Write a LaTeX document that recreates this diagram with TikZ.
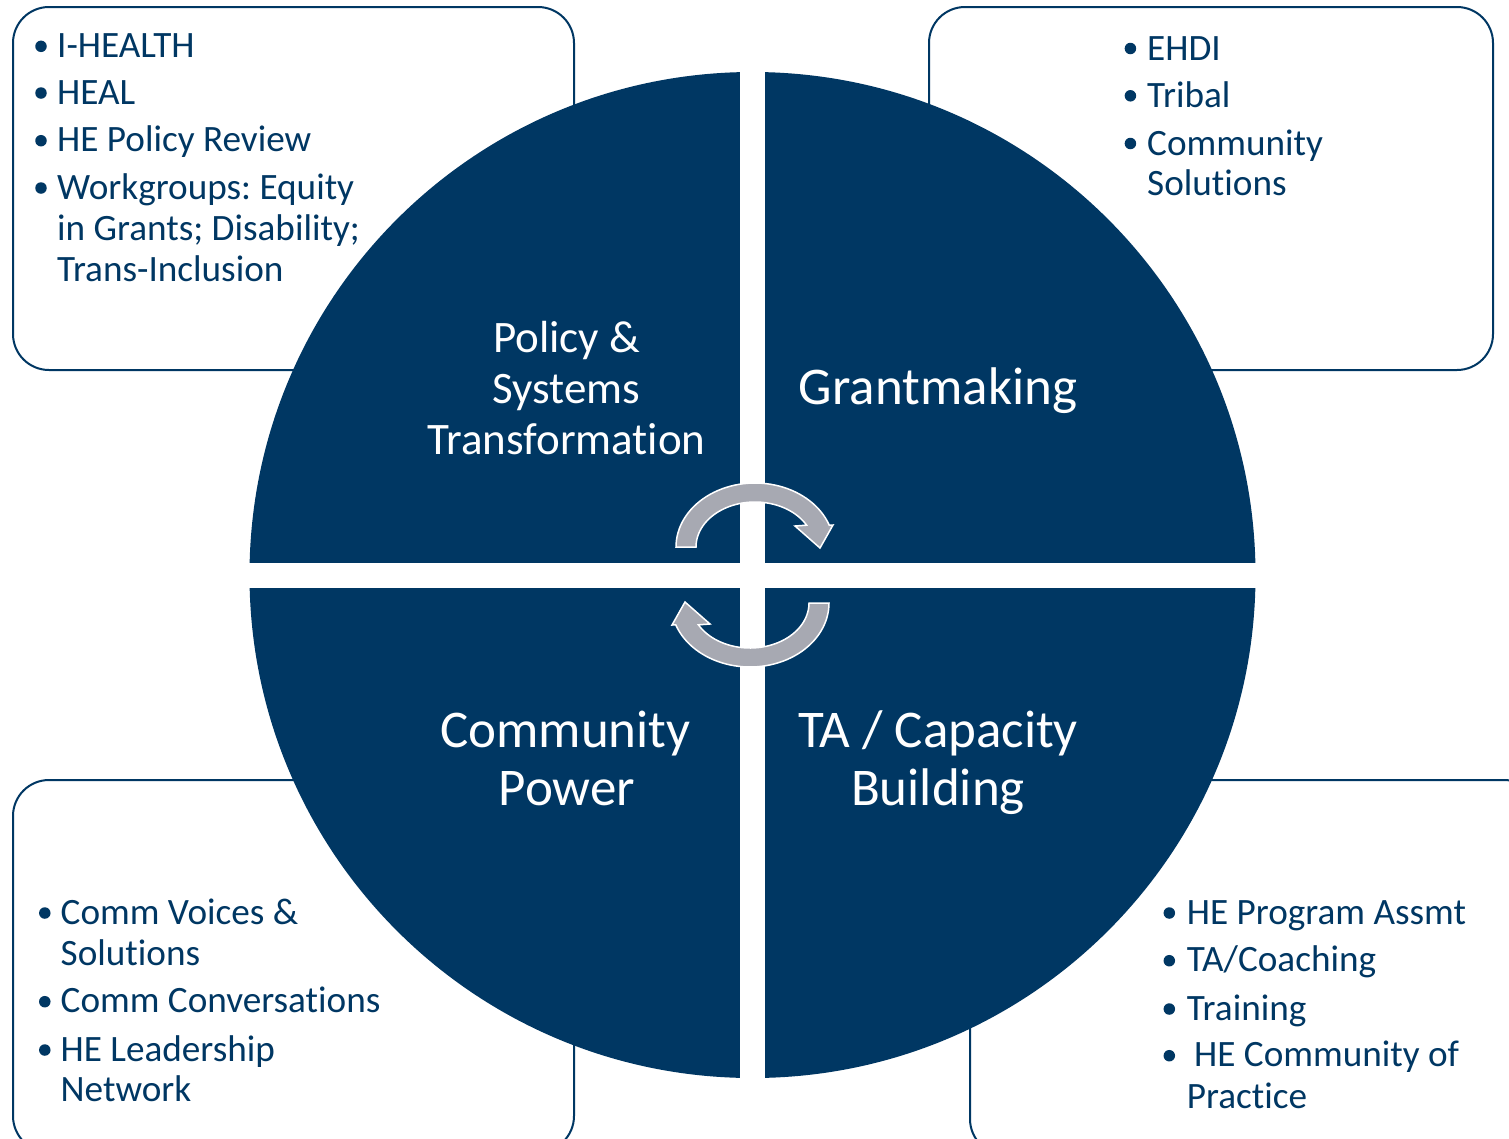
\documentclass[tikz,border=0pt]{standalone}
\usepackage{fontspec}
\setmainfont{Carlito}[Ligatures={NoCommon}]
\frenchspacing
\definecolor{navy}{RGB}{0,55,99}
\definecolor{arrowgray}{RGB}{167,169,178}
\begin{document}
\begin{tikzpicture}[x=1pt,y=-1pt,
  box/.style={draw=navy, line width=2pt, fill=white, rounded corners=36pt},
  item/.style={anchor=base west, inner sep=0pt, text=navy, font=\fontsize{37.2}{40}\selectfont},
  dot/.style={circle, fill=navy, inner sep=0pt, minimum size=11.5pt},
  big/.style={anchor=base, inner sep=0pt, text=white, font=\fontsize{53}{56}\selectfont},
  mid/.style={anchor=base, inner sep=0pt, text=white, font=\fontsize{45}{48}\selectfont},
  cyc/.style={fill=arrowgray, draw=white, line width=1.5pt, line join=miter}
]
\useasboundingbox (0,0) rectangle (1509,1138);
\fill[white] (0,0) rectangle (1509,1138);
\begin{scope}
\clip (0,0) rectangle (1509,1138);
% boxes
\draw[box] (13,7) rectangle (574,370);
\draw[box] (929,7) rectangle (1493,370);
\draw[box] (13,780) rectangle (574,1152);
\draw[box] (970,780) rectangle (1540,1155);
% circle
\fill[navy] (752.5,575) circle[radius=503pt];
% white cross
\fill[white] (740,55) rectangle (765,1095);
\fill[white] (235,562.5) rectangle (1270,587.5);
% cycle arrows
\path[cyc] plot[domain=180:20, samples=50] ({755+79*cos(\x)},{547-64*sin(\x)})
  -- (833,525) -- (820,548) -- (795,526)
  -- plot[domain=29:180, samples=50] ({755+59*cos(\x)},{547-45*sin(\x)}) -- cycle;
\begin{scope}[rotate around={180:(752.5,575)}]
\path[cyc] plot[domain=180:20, samples=50] ({755+79*cos(\x)},{547-64*sin(\x)})
  -- (833,525) -- (820,548) -- (795,526)
  -- plot[domain=29:180, samples=50] ({755+59*cos(\x)},{547-45*sin(\x)}) -- cycle;
\end{scope}
\end{scope}
% quadrant labels
\node[mid] (p1) at (566.5,352) {Policy \&};
\node[mid] (p2) at (566.5,403) {Systems};
\node[mid] (p3) at (566.5,454) {Transformation};
\node[big] (g1) at (938,404) {Grantmaking};
\node[big] (c1) at (565.5,747.5) {Community};
\node[big] (c2) at (567,805) {Power};
\node[big] (t1) at (938,747.5) {TA / Capacity};
\node[big] (t2) at (938,805) {Building};
% top-left list
\node[dot] (tld1) at (41,46.3) {};
\node[item] (tl1) at (57,57.3) {I-HEALTH};
\node[dot] (tld2) at (41,93) {};
\node[item] (tl2) at (57,104) {HEAL};
\node[dot] (tld3) at (41,140.7) {};
\node[item] (tl3) at (57,151.7) {HE Policy Review};
\node[dot] (tld4) at (41,188) {};
\node[item] (tl4) at (57,199) {Workgroups: Equity};
\node[item] (tl5) at (57,240.7) {in Grants; Disability;};
\node[item] (tl6) at (57,281.7) {Trans-Inclusion};
% top-right list
\node[dot] (trd1) at (1130.4,48.5) {};
\node[item] (tr1) at (1147,60) {EHDI};
\node[dot] (trd2) at (1130.4,95.8) {};
\node[item] (tr2) at (1147,107.3) {Tribal};
\node[dot] (trd3) at (1130.4,143.5) {};
\node[item] (tr3) at (1147,155) {Community};
\node[item] (tr4) at (1147,195.7) {Solutions};
% bottom-left list
\node[dot] (bld1) at (44.8,913) {};
\node[item] (bl1) at (60.5,924) {Comm Voices \&};
\node[item] (bl2) at (60.5,965) {Solutions};
\node[dot] (bld2) at (44.8,1001.7) {};
\node[item] (bl3) at (60.5,1012.7) {Comm Conversations};
\node[dot] (bld3) at (44.8,1050) {};
\node[item] (bl4) at (60.5,1061) {HE Leadership};
\node[item] (bl5) at (60.5,1101.7) {Network};
% bottom-right list
\node[dot] (brd1) at (1169.3,913) {};
\node[item] (br1) at (1186.7,924) {HE Program Assmt};
\node[dot] (brd2) at (1169.3,960.7) {};
\node[item] (br2) at (1186.7,971.7) {TA/Coaching};
\node[dot] (brd3) at (1169.3,1009) {};
\node[item] (br3) at (1186.7,1020) {Training};
\node[dot] (brd4) at (1169.3,1055.7) {};
\node[item] (br4) at (1194,1066.7) {HE Community of};
\node[item] (br5) at (1186.7,1108.3) {Practice};
\end{tikzpicture}
\end{document}
